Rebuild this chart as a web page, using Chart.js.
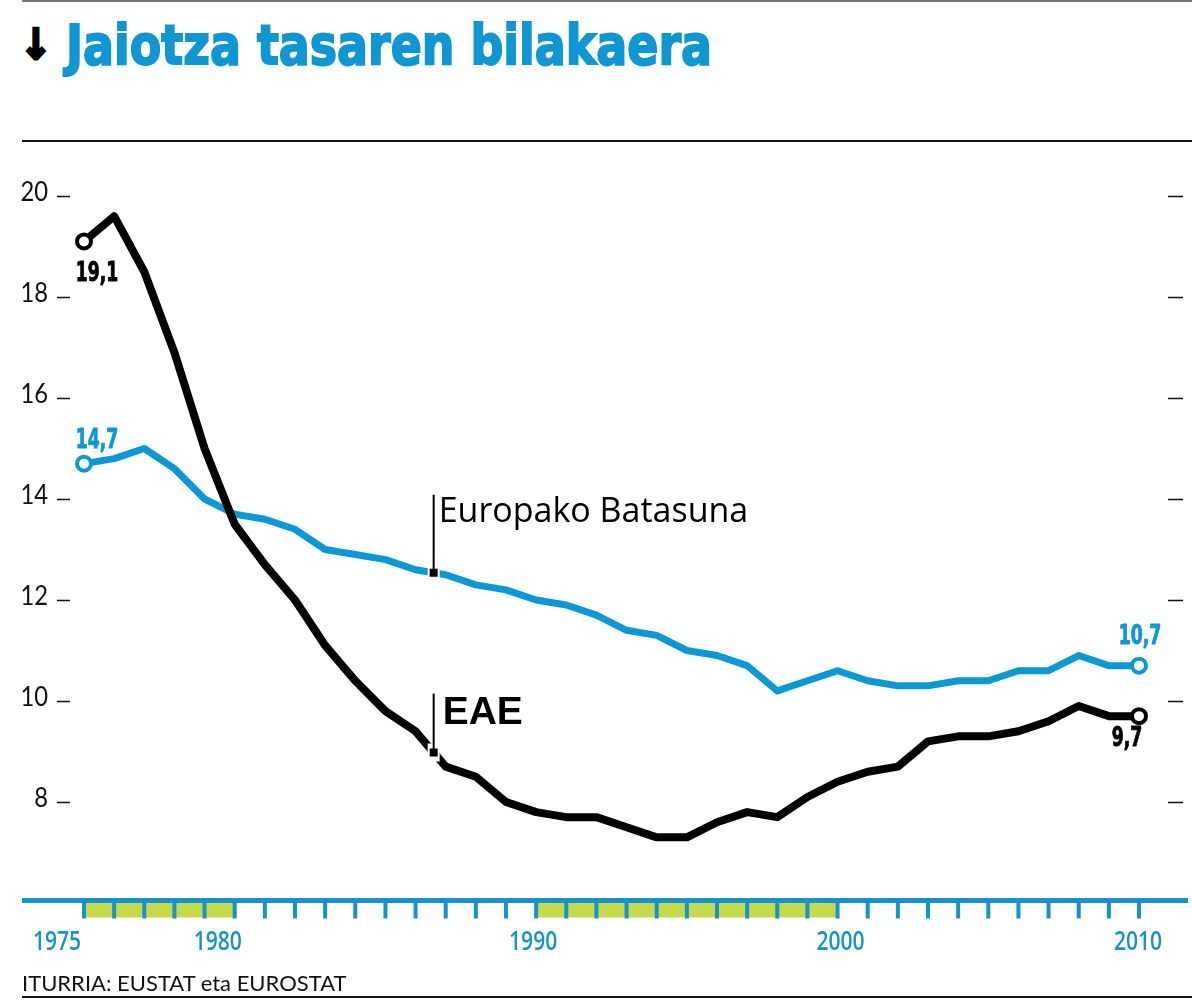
<!DOCTYPE html>
<html>
<head>
<meta charset="utf-8">
<script src="https://cdn.jsdelivr.net/npm/chart.js@4.4.0/dist/chart.umd.min.js"></script>
<style>
  body { margin: 0; background: #fff; }
  #wrap { position: relative; width: 1192px; height: 1000px; overflow: hidden; }
  #chart { position: absolute; left: 0; top: 0; }
  .rule { position: absolute; left: 22px; right: 0; }
  #title { position: absolute; left: 66px; top: 17px; font: bold 56px "DejaVu Sans"; color: #0f96d3; -webkit-text-stroke: 2px #0f96d3; white-space: nowrap; line-height: 1; transform-origin: 0 0; }
  #arrow { position: absolute; left: 20px; top: 24px; font: bold 42px "DejaVu Sans"; -webkit-text-stroke: 3px #000; line-height: 1; color: #000; transform-origin: 0 0; transform: scaleX(0.9); }
  #source { position: absolute; left: 22px; top: 969px; font: 22px Lato; color: #111; white-space: nowrap; }
</style>
</head>
<body>
<div id="wrap">
  <div class="rule" style="top:0; height:2px; background:#777;"></div>
  <div id="arrow">↓</div>
  <div id="title">Jaiotza tasaren bilakaera</div>
  <div class="rule" style="top:140px; height:1.5px; background:#111;"></div>
  <canvas id="chart" width="1192" height="1000"></canvas>
  <div id="source">ITURRIA: EUSTAT eta EUROSTAT</div>
  <div class="rule" style="top:996px; height:2px; background:#111;"></div>
</div>
<script>
// Data (births per 1000 inhabitants)
const years = [1975, 1976, 1977, 1978, 1979, 1980, 1981, 1982, 1983, 1984, 1985, 1986,
  1987, 1988, 1989, 1990, 1991, 1992, 1993, 1994, 1995, 1996, 1997, 1998, 1999, 2000,
  2001, 2002, 2003, 2004, 2005, 2006, 2007, 2008, 2009, 2010];
const eaeRate = [19.1, 19.6, 18.5, 16.9, 15.0, 13.5, 12.7, 12.0, 11.1, 10.4, 9.8, 9.4,
  8.7, 8.5, 8.0, 7.8, 7.7, 7.7, 7.5, 7.3, 7.3, 7.6, 7.8, 7.7, 8.1, 8.4,
  8.6, 8.7, 9.2, 9.3, 9.3, 9.4, 9.6, 9.9, 9.7, 9.7];
const euRate = [14.7, 14.8, 15.0, 14.6, 14.0, 13.7, 13.6, 13.4, 13.0, 12.9, 12.8, 12.6,
  12.5, 12.3, 12.2, 12.0, 11.9, 11.7, 11.4, 11.3, 11.0, 10.9, 10.7, 10.2, 10.4, 10.6,
  10.4, 10.3, 10.3, 10.4, 10.4, 10.6, 10.6, 10.9, 10.7, 10.7];
const yTicks = [8, 10, 12, 14, 16, 18, 20];
const yearLabels = [1975, 1980, 1990, 2000, 2010];
const greenSpans = [[1975, 1980], [1990, 2000]];
const seriesNames = ["EAE", "Europako Batasuna"];

// styling
const BLUE = "#0b98d5";
const AXIS_BLUE = "#1693cd";
const GREEN = "#c5d94b";
const labelShift = [-27, -17, -3, 3, -1]; // the printed year labels sit a bit off their ticks
const markerYear = 1986.6;

const lastIdx = years.length - 1;
const endRadius = years.map((y, i) => (i === 0 || i === lastIdx ? 7 : 0));

function scaledText(ctx, text, x, y, k, align, stroke) {
  ctx.save();
  ctx.translate(x, y);
  ctx.scale(k, 1);
  ctx.textAlign = align;
  ctx.fillText(text, 0, 0);
  if (stroke) {
    ctx.strokeStyle = ctx.fillStyle;
    ctx.lineWidth = stroke;
    ctx.lineJoin = "round";
    ctx.strokeText(text, 0, 0);
  }
  ctx.restore();
}

function fmt(v) {
  return v.toFixed(1).replace(".", ",");
}

// leader marker: white gap in the line, small black square, thin vertical line up to the label
function marker(ctx, x, y, topY) {
  ctx.fillStyle = "#fff";
  ctx.fillRect(x - 6, y - 9, 12, 18);
  ctx.fillStyle = "#000";
  ctx.fillRect(x - 4, y - 4, 8, 8);
  ctx.fillRect(x - 1, topY, 2, y - topY);
}

const decor = {
  id: "decor",
  afterDraw(chart) {
    const ctx = chart.ctx;
    const xs = chart.scales.x;
    const ys = chart.scales.y;

    // y axis: labels + short dashes on both sides
    ctx.save();
    ctx.fillStyle = "#111";
    ctx.strokeStyle = "#111";
    ctx.lineWidth = 1.5;
    ctx.font = '27px Lato';
    ctx.textBaseline = "alphabetic";
    yTicks.forEach(t => {
      const py = Math.round(ys.getPixelForValue(t)) + 0.5;
      scaledText(ctx, String(t), 48, py + 4, 0.88, "right");
      ctx.beginPath();
      ctx.moveTo(57, py); ctx.lineTo(70, py);
      ctx.moveTo(1168, py); ctx.lineTo(1183, py);
      ctx.stroke();
    });
    ctx.restore();

    // x axis: green year bands, blue base line and ticks
    const axisY = 900.5;
    ctx.save();
    ctx.fillStyle = GREEN;
    greenSpans.forEach(([a, b]) => {
      const x0 = xs.getPixelForValue(a);
      const x1 = xs.getPixelForValue(b);
      ctx.fillRect(x0, axisY, x1 - x0, 17);
    });
    ctx.fillStyle = AXIS_BLUE;
    ctx.fillRect(22, axisY - 2.5, 1166, 5);
    years.forEach(yr => {
      const px = xs.getPixelForValue(yr);
      ctx.fillRect(px - 2, axisY, 4, 18);
    });
    ctx.font = '600 27px "Open Sans"';
    ctx.textBaseline = "alphabetic";
    yearLabels.forEach((yr, i) => {
      scaledText(ctx, String(yr), xs.getPixelForValue(yr) + labelShift[i], 950, 0.78, "center");
    });
    ctx.restore();

    // end values
    const eaeMeta = chart.getDatasetMeta(0).data;
    const euMeta = chart.getDatasetMeta(1).data;
    ctx.save();
    ctx.font = 'bold 27px "DejaVu Sans"';
    ctx.textBaseline = "alphabetic";
    ctx.fillStyle = "#000";
    scaledText(ctx, fmt(eaeRate[0]), eaeMeta[0].x + 13, eaeMeta[0].y + 40, 0.64, "center", 1);
    scaledText(ctx, fmt(eaeRate[lastIdx]), eaeMeta[lastIdx].x - 12, eaeMeta[lastIdx].y + 30, 0.64, "center", 1);
    ctx.fillStyle = BLUE;
    scaledText(ctx, fmt(euRate[0]), euMeta[0].x + 13, euMeta[0].y - 16, 0.64, "center", 1);
    scaledText(ctx, fmt(euRate[lastIdx]), euMeta[lastIdx].x + 1, euMeta[lastIdx].y - 22, 0.64, "center", 1);
    ctx.restore();

    // series labels with leaders
    const i0 = Math.floor(markerYear - years[0]);
    const f = markerYear - years[i0];
    const mx = xs.getPixelForValue(markerYear);
    const euY = ys.getPixelForValue(euRate[i0] + f * (euRate[i0 + 1] - euRate[i0]));
    const eaeY = ys.getPixelForValue(eaeRate[i0] + f * (eaeRate[i0 + 1] - eaeRate[i0]));
    ctx.save();
    marker(ctx, mx, euY, euY - 78);
    marker(ctx, mx, eaeY, eaeY - 59);
    ctx.fillStyle = "#000";
    ctx.textBaseline = "alphabetic";
    ctx.textAlign = "left";
    ctx.font = '34px "Open Sans"';
    ctx.fillText(seriesNames[1], mx + 5, euY - 51);
    ctx.font = 'bold 39px "Liberation Sans"';
    ctx.fillText(seriesNames[0], mx + 9, eaeY - 29);
    ctx.restore();
  }
};

new Chart(document.getElementById("chart"), {
  type: "line",
  data: {
    datasets: [
      {
        label: seriesNames[0],
        data: years.map((y, i) => ({ x: y, y: eaeRate[i] })),
        borderColor: "#000",
        borderWidth: 8,
        pointRadius: endRadius,
        pointBackgroundColor: "#fff",
        pointBorderColor: "#000",
        pointBorderWidth: 4,
        clip: false
      },
      {
        label: seriesNames[1],
        data: years.map((y, i) => ({ x: y, y: euRate[i] })),
        borderColor: BLUE,
        borderWidth: 7,
        pointRadius: endRadius,
        pointBackgroundColor: "#fff",
        pointBorderColor: BLUE,
        pointBorderWidth: 4,
        clip: false
      }
    ]
  },
  options: {
    responsive: false,
    animation: false,
    devicePixelRatio: 1,
    layout: { padding: { left: 84, right: 53, top: 196, bottom: 97 } },
    elements: { line: { tension: 0, borderJoinStyle: "round", borderCapStyle: "round" } },
    plugins: { legend: { display: false }, tooltip: { enabled: false } },
    scales: {
      x: { type: "linear", min: years[0], max: years[lastIdx], display: false },
      y: { type: "linear", min: 6, max: 20, display: false }
    }
  },
  plugins: [decor]
});

// squeeze the headline to the printed width
const title = document.getElementById("title");
title.style.transform = "scaleX(" + (646 / title.getBoundingClientRect().width) + ")";
</script>
</body>
</html>
